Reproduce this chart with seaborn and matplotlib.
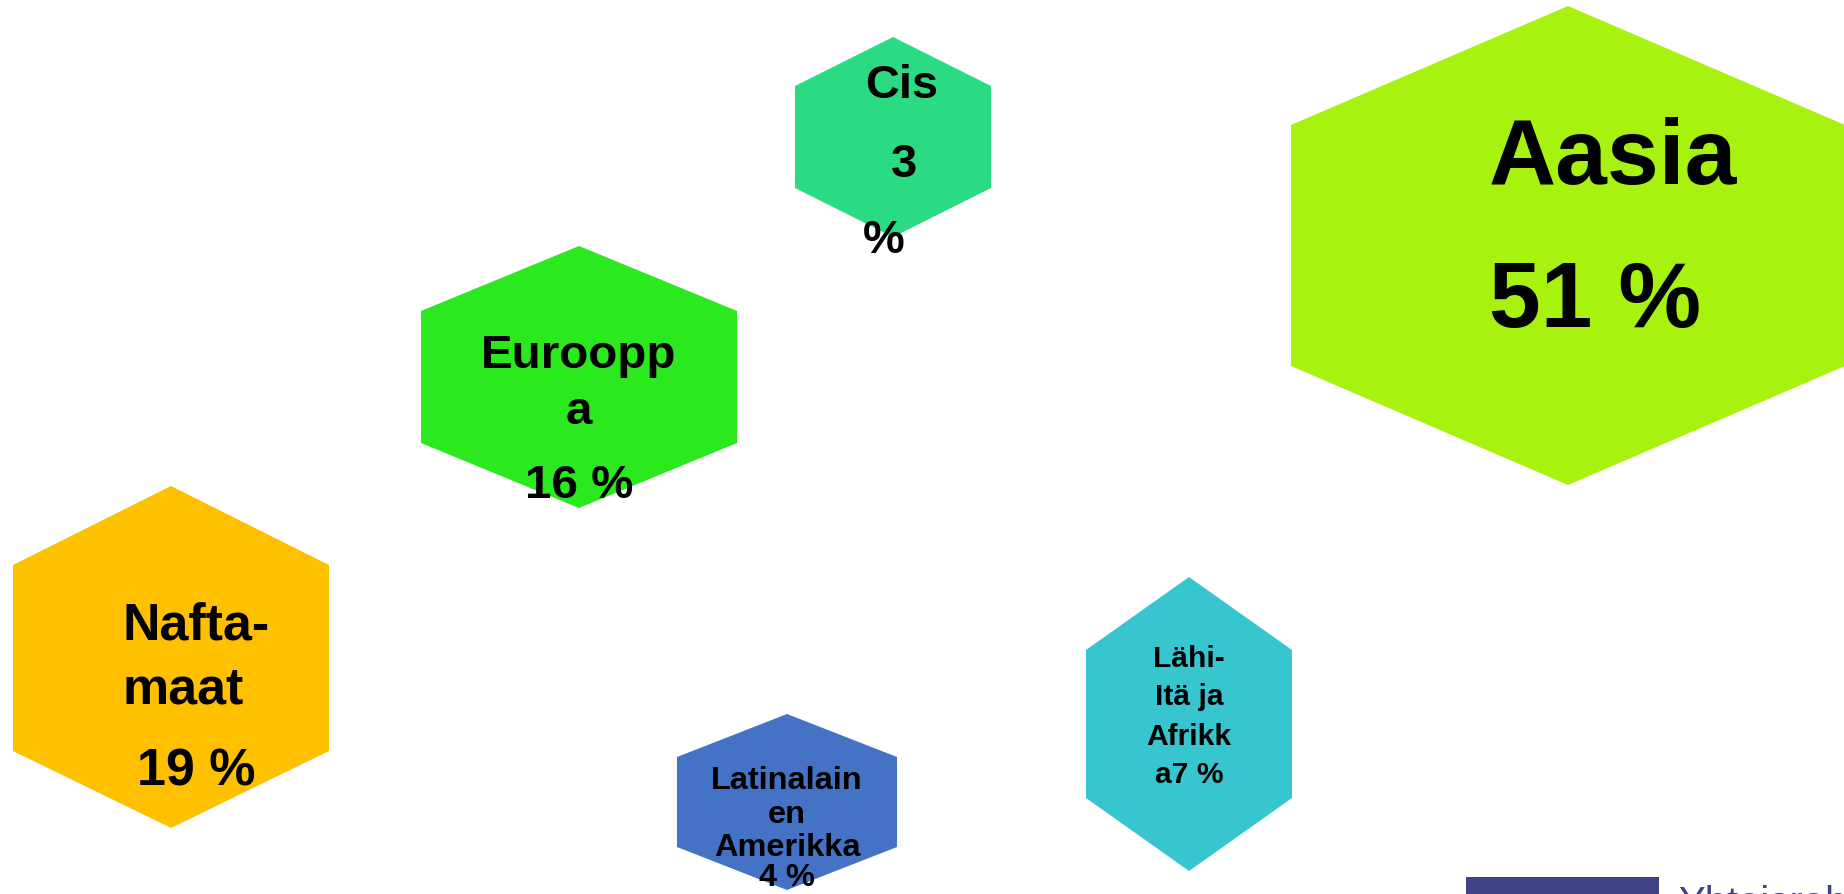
import matplotlib
matplotlib.use("Agg")
import matplotlib.pyplot as plt
from matplotlib.patches import Polygon, Rectangle
import seaborn as sns

# ---------------- data ----------------
regions = ["Aasia", "Nafta-maat", "Eurooppa", "Lähi-Itä ja Afrikka",
           "Latinalainen Amerikka", "Cis"]
shares = [51, 19, 16, 7, 4, 3]
# wrapped label text as it appears in the picture ({} = share)
label_lines = [
    ["Aasia", "{} %"],
    ["Nafta-", "maat", "{} %"],
    ["Euroopp", "a", "{} %"],
    ["Lähi-", "Itä ja", "Afrikk", "a{} %"],
    ["Latinalain", "en", "Amerikka", "{} %"],
    ["Cis", "{}", "%"],
]
colors = ["#A8F20F", "#FFC000", "#2CE81F", "#37C5CF", "#4472C4", "#2BDB83"]

# ---------------- layout (pixel space of the 1844x894 canvas) ----------------
hex_cx = [1568, 171, 579, 1189, 787, 893]
hex_halfw = [277, 158, 158, 103, 110, 98]
hex_top = [6, 486, 246, 577, 714, 37]
hex_s1 = [125, 565, 311, 650, 757, 86]
hex_s2 = [366, 751, 443, 798, 847, 188]
hex_bot = [485, 828, 508, 871, 890, 237]

font_px = [93, 52, 47.5, 30, 32.5, 47]
text_ha = ["left", "left", "center", "center", "center", "center"]
text_x = [[1489, 1489], [122, 122, 137], [579, 579, 579],
          [1189, 1189, 1189, 1189], [787, 787, 787, 787], [902, 904, 884]]
text_base = [[184, 327], [639, 703, 786], [368, 424, 498],
             [667, 705, 745, 783], [789, 823, 856, 886], [98, 177, 253]]

sns.set_theme(style="white")
plt.rcParams["font.family"] = ["Liberation Sans", "DejaVu Sans"]

W, H, DPI = 1844, 894, 100
fig = plt.figure(figsize=(W / DPI, H / DPI), dpi=DPI)
ax = fig.add_axes([0, 0, 1, 1])
ax.set_xlim(0, W)
ax.set_ylim(H, 0)
ax.axis("off")

palette = sns.color_palette(colors)

for i, reg in enumerate(regions):
    cx, hw = hex_cx[i], hex_halfw[i]
    verts = [(cx, hex_top[i]), (cx + hw, hex_s1[i]), (cx + hw, hex_s2[i]),
             (cx, hex_bot[i]), (cx - hw, hex_s2[i]), (cx - hw, hex_s1[i])]
    ax.add_patch(Polygon(verts, closed=True, facecolor=palette[i],
                         edgecolor="none", zorder=1))
    for j, line in enumerate(label_lines[i]):
        ax.text(text_x[i][j], text_base[i][j], line.format(shares[i]),
                ha=text_ha[i], va="baseline", fontsize=font_px[i] * 0.72,
                fontweight="bold", color="black", zorder=3)

# logo fragment at the bottom right (cut by the edge, as in the reference)
ax.add_patch(Rectangle((1466, 877), 193, 30, facecolor="#3F4385",
                       edgecolor="none", zorder=1))
ax.text(1678, 915, "Yhteisrahoitus", ha="left", va="baseline",
        fontsize=40 * 0.72, color="#3F4385", clip_on=True, zorder=3)

fig.savefig("out.png", dpi=DPI)
